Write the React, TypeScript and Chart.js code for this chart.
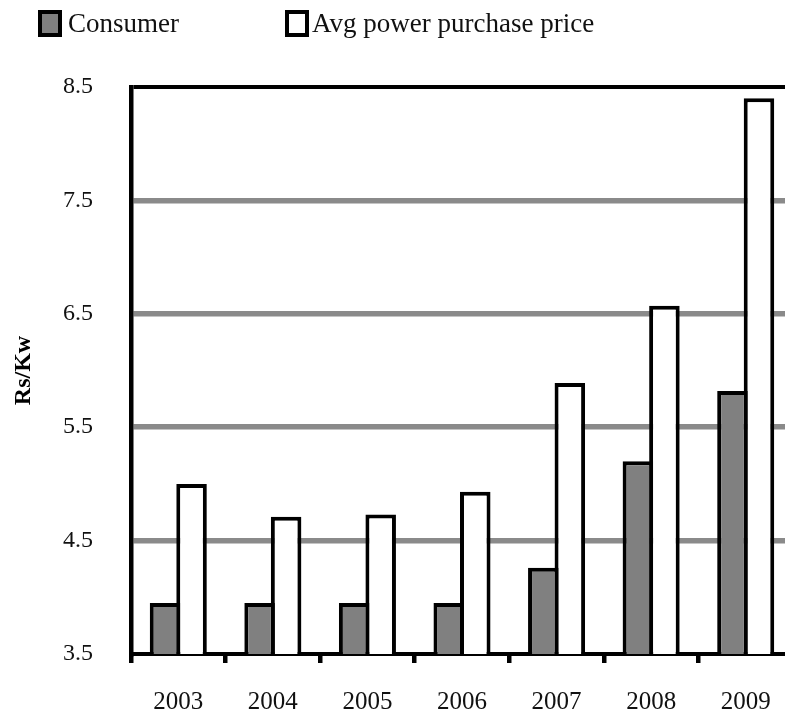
import { useEffect, useRef } from "react";
import { Chart, registerables } from "chart.js";

Chart.register(...registerables);

const years = ["2003", "2004", "2005", "2006", "2007", "2008", "2009"];
const consumer = [3.95, 3.95, 3.95, 3.95, 4.26, 5.2, 5.82];
const avgPrice = [5.0, 4.71, 4.73, 4.93, 5.89, 6.57, 8.4];
const yTicks = [3.5, 4.5, 5.5, 6.5, 7.5, 8.5];
const seriesNames = ["Consumer", "Avg power purchase price"];
const yTitle = "Rs/Kw";

const FONT = "'Liberation Serif', 'DejaVu Serif', serif";

export default function App() {
  const ref = useRef<HTMLCanvasElement | null>(null);

  useEffect(() => {
    const canvas = ref.current;
    if (!canvas) return;
    const chart = new Chart(canvas, {
      type: "bar",
      data: {
        labels: years,
        datasets: [
          {
            label: seriesNames[0],
            data: consumer,
            backgroundColor: "#808080",
            borderColor: "#000",
            borderWidth: 4,
            borderSkipped: "start",
            categoryPercentage: 0.561,
            barPercentage: 1.151,
          },
          {
            label: seriesNames[1],
            data: avgPrice,
            backgroundColor: "#ffffff",
            borderColor: "#000",
            borderWidth: 4,
            borderSkipped: "start",
            categoryPercentage: 0.561,
            barPercentage: 1.151,
          },
        ],
      },
      options: {
        responsive: false,
        animation: false,
        devicePixelRatio: 1,
        layout: { padding: { left: 0, right: 7, top: 87, bottom: 0 } },
        plugins: {
          legend: { display: false },
          tooltip: { enabled: false },
        },
        scales: {
          x: {
            grid: {
              display: true,
              drawOnChartArea: false,
              drawTicks: true,
              tickLength: 9,
              lineWidth: 4.5,
              color: "#000",
              offset: true,
            },
            border: { display: true, color: "#000", width: 4 },
            ticks: {
              font: { family: FONT, size: 25 },
              color: "#111",
              padding: 24,
              maxRotation: 0,
            },
            afterFit: (s: any) => {
              s.height = 61;
            },
          },
          y: {
            min: 3.5,
            max: 8.5,
            afterBuildTicks: (s: any) => {
              s.ticks = yTicks.map((v) => ({ value: v }));
            },
            grid: {
              drawTicks: false,
              color: (ctx: any) => {
                const v = ctx.tick ? ctx.tick.value : 0;
                if (v === 8.5) return "#000";
                if (v === 3.5) return "rgba(0,0,0,0)";
                return "#8a8a8a";
              },
              lineWidth: (ctx: any) => {
                const v = ctx.tick ? ctx.tick.value : 0;
                return v === 8.5 ? 4 : 5.5;
              },
            },
            border: { display: true, color: "#000", width: 4.5 },
            ticks: {
              font: { family: FONT, size: 24 },
              color: "#111",
              padding: 38,
              callback: (v: any) => Number(v).toFixed(1),
            },
            title: {
              display: true,
              text: yTitle,
              font: { family: FONT, size: 24, weight: "bold" },
              color: "#000",
              padding: { top: 9, bottom: 0 },
            },
            afterFit: (s: any) => {
              s.width = 131;
            },
          },
        },
      },
    } as any);
    return () => chart.destroy();
  }, []);

  const legendText: React.CSSProperties = {
    position: "absolute",
    fontFamily: FONT,
    fontSize: 27,
    lineHeight: "27px",
    color: "#111",
    whiteSpace: "nowrap",
    top: 10,
  };
  const box: React.CSSProperties = {
    position: "absolute",
    boxSizing: "border-box",
    border: "4px solid #000",
    width: 24,
    height: 27,
    top: 10,
  };

  return (
    <div
      style={{
        position: "fixed",
        left: 0,
        top: 0,
        width: 785,
        height: 715,
        overflow: "hidden",
        background: "#fff",
      }}
    >
      <canvas
        ref={ref}
        width={800}
        height={715}
        style={{ display: "block", width: 800, height: 715 }}
      />
      <div style={{ ...box, left: 38, background: "#808080" }} />
      <div style={{ ...legendText, left: 68 }}>{seriesNames[0]}</div>
      <div style={{ ...box, left: 285, background: "#fff" }} />
      <div style={{ ...legendText, left: 312 }}>{seriesNames[1]}</div>
    </div>
  );
}
